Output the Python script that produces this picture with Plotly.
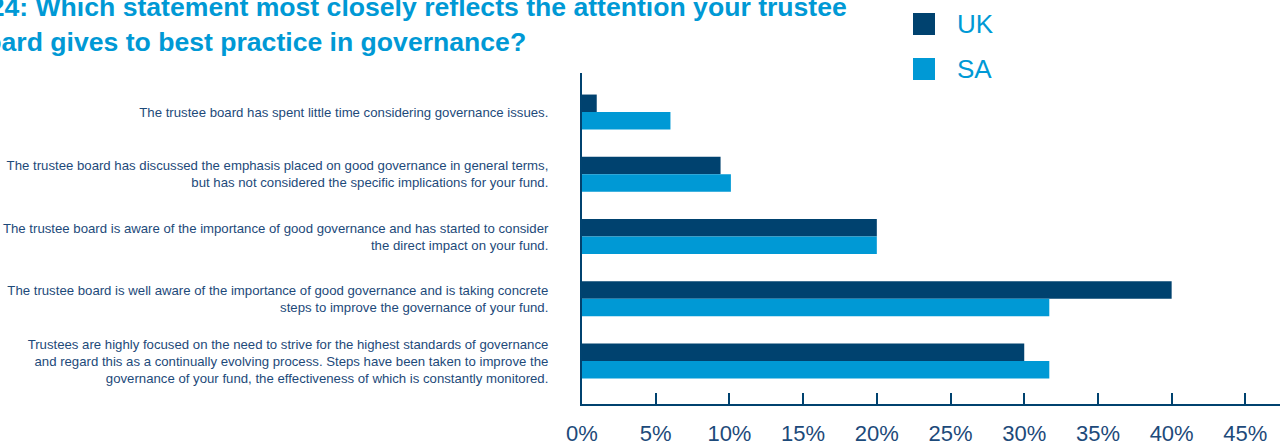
import plotly.graph_objects as go

# Survey responses, share of trustee boards per statement (%)
statements = [
    "The trustee board has spent little time considering governance issues.",
    "The trustee board has discussed the emphasis placed on good governance in general terms,<br>"
    "but has not considered the specific implications for your fund.",
    "The trustee board is aware of the importance of good governance and has started to consider<br>"
    "the direct impact on your fund.",
    "The trustee board is well aware of the importance of good governance and is taking concrete<br>"
    "steps to improve the governance of your fund.",
    "Trustees are highly focused on the need to strive for the highest standards of governance<br>"
    "and regard this as a continually evolving process. Steps have been taken to improve the<br>"
    "governance of your fund, the effectiveness of which is constantly monitored.",
]
uk_values = [1.0, 9.4, 20.0, 40.0, 30.0]
sa_values = [6.0, 10.1, 20.0, 31.7, 31.7]
series_names = ["UK", "SA"]
tick_values = [0, 5, 10, 15, 20, 25, 30, 35, 40, 45]
tick_labels = ["0%", "5%", "10%", "15%", "20%", "25%", "30%", "35%", "40%", "45%"]

title_text = ("Q24: Which statement most closely reflects the attention your trustee<br>"
              "board gives to best practice in governance?")

NAVY = "#00426f"
BLUE = "#0099d5"
TEXT_NAVY = "#1d4a7a"
FONT = "Liberation Sans, Arial, sans-serif"

fig = go.Figure()
fig.add_trace(go.Bar(y=statements, x=uk_values, name=series_names[0],
                     orientation="h", marker=dict(color=NAVY, line=dict(width=0))))
fig.add_trace(go.Bar(y=statements, x=sa_values, name=series_names[1],
                     orientation="h", marker=dict(color=BLUE, line=dict(width=0))))

W, H = 1280, 446
ML, MR, MT, MB = 582, 0, 73, 42

fig.update_layout(
    width=W, height=H,
    margin=dict(l=ML, r=MR, t=MT, b=MB, pad=0, autoexpand=False),
    paper_bgcolor="white", plot_bgcolor="white",
    barmode="group", bargap=0.438, bargroupgap=0,
    showlegend=False,
    font=dict(family=FONT, color=TEXT_NAVY),
)

fig.update_xaxes(
    range=[0, 47.35], tickvals=tick_values, ticktext=tick_labels,
    showgrid=False, zeroline=False, automargin=False,
    showline=True, linecolor=NAVY, linewidth=2,
    ticks="inside", ticklen=11, tickwidth=2, tickcolor=NAVY,
    tickfont=dict(size=22, color=TEXT_NAVY, family=FONT),
    ticklabelstandoff=9,
)
fig.update_yaxes(
    categoryorder="array", categoryarray=statements,
    range=[4.69, -0.627],
    showgrid=False, zeroline=False, automargin=False,
    showline=True, linecolor=NAVY, linewidth=2,
    ticks="", ticklabelstandoff=29,
    tickfont=dict(size=13.2, color=TEXT_NAVY, family=FONT),
)

# Title, left-aligned and running off the left edge of the canvas
fig.add_annotation(
    text=title_text, xref="paper", yref="paper", x=0, y=1,
    xanchor="left", yanchor="bottom", xshift=-33 - ML, yshift=14,
    align="left", showarrow=False,
    font=dict(size=26.6, color=BLUE, family=FONT, weight="bold"),
)

# Legend: coloured squares with series names
legend_colors = [NAVY, BLUE]
legend_centers = [24, 69]
for name, col, cy in zip(series_names, legend_colors, legend_centers):
    x0 = (913 - ML) / (W - ML - MR)
    x1 = (935 - ML) / (W - ML - MR)
    ph = H - MT - MB
    y0 = (H - MB - (cy + 11)) / ph
    y1 = (H - MB - (cy - 11)) / ph
    fig.add_shape(type="rect", xref="paper", yref="paper", x0=x0, x1=x1, y0=y0, y1=y1,
                  fillcolor=col, line=dict(width=0), layer="above")
    fig.add_annotation(text=name, xref="paper", yref="paper",
                       x=(955 - ML) / (W - ML - MR), y=(H - MB - cy) / ph,
                       xanchor="left", yanchor="middle", showarrow=False,
                       font=dict(size=26, color=BLUE, family=FONT))

fig.write_html("out.html")
